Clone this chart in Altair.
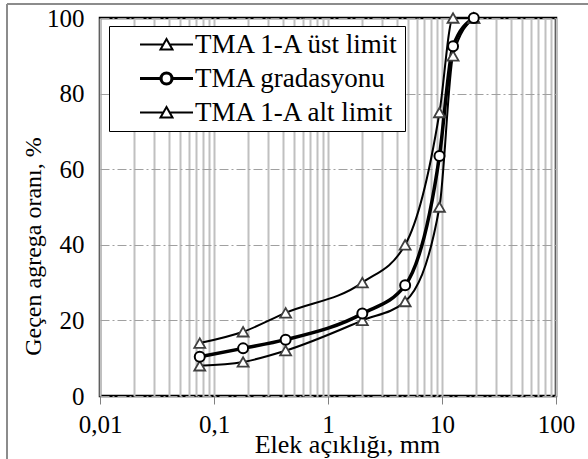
import altair as alt
import pandas as pd

# ---- data ----
sieve_mm = [19, 12.5, 9.5, 4.75, 2.0, 0.425, 0.18, 0.075]
upper_limit = [100, 100, 75, 40, 30, 22, 17, 14]
gradation = [100, 92.5, 63.5, 29.3, 21.8, 14.9, 12.6, 10.4]
lower_limit = [100, 90, 50, 25, 20, 12, 9, 8]

series_names = ["TMA 1-A üst limit", "TMA gradasyonu", "TMA 1-A alt limit"]
x_label_ticks = [0.01, 0.1, 1, 10, 100]
y_ticks = [0, 20, 40, 60, 80, 100]
x_grid_values = [round(m * 10.0 ** e, 6) for e in range(-2, 2) for m in range(1, 10)] + [100]

rows = []
for name, vals in zip(series_names, [upper_limit, gradation, lower_limit]):
    for s, v in zip(sieve_mm, vals):
        rows.append({"series": name, "entry": name, "x": s, "y": v})
df = pd.DataFrame(rows)

FONT = "Liberation Serif"
FS = 25

is_decade = "abs(log(datum.value)/LN10 - round(log(datum.value)/LN10)) < 1e-6"

x_enc = alt.X(
    "x:Q",
    scale=alt.Scale(type="log", domain=[0.01, 100]),
    axis=alt.Axis(
        values=x_grid_values,
        labelExpr=f"{is_decade} ? replace(toString(datum.value), '.', ',') : ''",
        grid=True,
        gridColor="#c0c0c0",
        gridWidth=2,
        domain=False,
        tickSize=8,
        tickColor="#808080",
        tickWidth=1,
        tickOpacity={"condition": {"test": is_decade, "value": 1}, "value": 0},
        labelFont=FONT,
        labelFontSize=FS,
        labelColor="black",
        labelPadding=8,
        labelFlush=False,
        labelOverlap=False,
        title="Elek açıklığı, mm",
        titleFont=FONT,
        titleFontSize=26,
        titleFontWeight="normal",
        titleColor="black",
        titleBaseline="alphabetic",
        titleY=56,
        titleX=247,
    ),
)
y_enc = alt.Y(
    "y:Q",
    scale=alt.Scale(domain=[0, 100]),
    axis=alt.Axis(
        values=y_ticks,
        grid=True,
        gridColor="#a0a0a0",
        gridWidth=1,
        gridDash=[9, 3, 2, 3],
        domain=False,
        ticks=False,
        labelFont=FONT,
        labelFontSize=FS,
        labelColor="black",
        labelPadding=16,
        title="Geçen agrega oranı, %",
        titleFont=FONT,
        titleFontSize=24,
        titleFontWeight="normal",
        titleColor="black",
        titleAngle=-90,
        titleBaseline="alphabetic",
        titleX=-60,
        titleY=228,
    ),
)

base = alt.Chart(df)

thin_lines = base.transform_filter(alt.datum.series != series_names[1]).mark_line(
    interpolate="monotone", color="black", strokeWidth=2
).encode(x=x_enc, y=y_enc, detail="series:N")

thick_line = base.transform_filter(alt.datum.series == series_names[1]).mark_line(
    interpolate="monotone", color="black", strokeWidth=3.5
).encode(x=x_enc, y=y_enc)

triangles = base.transform_filter(alt.datum.series != series_names[1]).mark_point(
    shape="triangle-up", filled=True, fill="white", stroke="#404040",
    strokeWidth=1.8, size=120, opacity=1
).encode(x=x_enc, y=y_enc)

circles = base.transform_filter(alt.datum.series == series_names[1]).mark_point(
    shape="circle", filled=True, fill="white", stroke="black",
    strokeWidth=2, size=100, opacity=1
).encode(x=x_enc, y=y_enc)

tri_path = "M-2.65,0L-0.31,0M0.31,0L2.65,0M0,-0.55L0.6,0.5L-0.6,0.5Z"
circ_path = ("M-2.65,0L-0.55,0M0.55,0L2.65,0"
             "M-0.55,0A0.55,0.55,0,1,0,0.55,0A0.55,0.55,0,1,0,-0.55,0Z")

legend_layer = base.transform_filter("datum.y < -1").mark_point(
    filled=False, color="black", opacity=1
).encode(
    x=x_enc,
    y=y_enc,
    shape=alt.Shape(
        "entry:N",
        scale=alt.Scale(domain=series_names, range=[tri_path, circ_path, tri_path]),
        legend=alt.Legend(
            title=None,
            orient="none",
            legendX=9,
            legendY=8,
            padding=5,
            strokeColor="black",
            fillColor="white",
            symbolSize=400,
            symbolStrokeColor="black",
            symbolStrokeWidth=2,
            symbolOpacity=1,
            symbolOffset=39,
            labelOffset=15,
            labelFont=FONT,
            labelFontSize=27,
            labelColor="black",
            labelLimit=400,
            labelExpr="datum.label + '\u00a0\u00a0\u00a0'",
            rowPadding=6,
        ),
    ),
    strokeWidth=alt.StrokeWidth(
        "entry:N",
        scale=alt.Scale(type="ordinal", domain=series_names, range=[2, 3.2, 2]),
        legend=None,
    ),
)

frame = alt.Chart(alt.Data(values=[{}])).mark_rule(color="#8c8c8c", strokeWidth=2).encode(
    x=alt.value(-93), y=alt.value(-14), y2=alt.value(460)
)
frame_top = alt.Chart(alt.Data(values=[{}])).mark_rule(color="#8c8c8c", strokeWidth=2).encode(
    x=alt.value(-93), x2=alt.value(500), y=alt.value(-14)
)

chart = alt.layer(
    thin_lines, thick_line, triangles, circles, legend_layer, frame, frame_top
).properties(
    width=456,
    height=378,
    autosize=alt.AutoSizeParams(type="none"),
    padding={"left": 100, "top": 18, "right": 32, "bottom": 63},
    background="white",
).configure_view(
    stroke="black", strokeWidth=2.5
)

chart.save("out.html", embed_options={"renderer": "svg", "actions": False})
